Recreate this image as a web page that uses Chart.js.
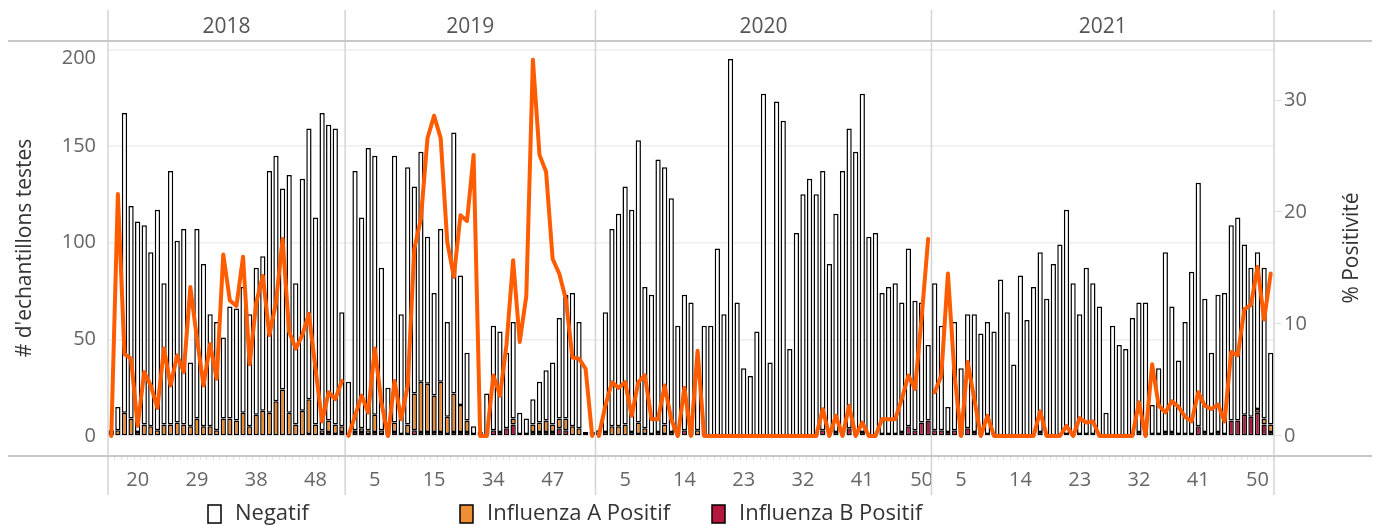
<!DOCTYPE html>
<html>
<head>
<meta charset="utf-8">
<script src="https://cdn.jsdelivr.net/npm/chart.js@4.4.1/dist/chart.umd.min.js"></script>
<style>
  html, body { margin: 0; padding: 0; background: #fff; }
  #wrap { width: 1380px; height: 525px; }
</style>
</head>
<body>
<div id="wrap"><canvas id="grippe" width="1380" height="525"></canvas></div>
<script>
// semaines affichees par annee
const annees = ["2018", "2019", "2020", "2021"];
const semaines2018 = [16,17,18,19,20,21,22,23,24,25,26,27,28,29,30,31,32,33,34,35,36,37,38,40,41,42,43,44,45,46,47,48,49,50,51,52];
const semaines2019 = [1,2,3,4,5,7,8,9,10,11,12,13,14,15,16,17,18,19,20,21,26,30,34,35,36,37,38,39,41,43,45,47,48,49,50,51,52,53];
const semaines2020 = [1,2,3,4,5,6,7,8,9,10,11,12,13,14,15,16,17,18,19,20,21,22,23,24,25,26,27,28,29,30,31,32,33,34,35,36,37,38,39,40,41,42,43,44,45,46,47,48,49,50,51];
const semaines2021 = [1,2,3,4,5,6,7,8,9,10,11,12,13,14,15,16,17,18,19,20,21,22,23,24,25,26,27,28,29,30,31,32,33,34,35,36,37,38,39,40,41,42,43,44,45,46,47,48,49,50,51,52];

// nombre d'echantillons
const negatif2018 = [3,12,155,110,109,103,90,114,73,131,94,101,33,98,84,58,56,42,58,58,65,58,76,80,125,127,104,123,73,120,140,107,164,153,153,59];
const grippeA2018 = [0,3,12,9,2,6,5,3,6,6,7,6,5,9,5,5,3,9,9,8,12,5,11,13,12,18,24,12,6,13,18,6,2,6,5,3];
const grippeB2018 = [0,0,0,0,0,0,0,0,0,0,0,0,0,0,0,0,0,0,0,0,0,0,0,0,0,0,0,0,0,0,1,0,1,2,1,2];

const negatif2019 = [28,134,109,146,134,84,25,138,62,133,107,119,76,53,79,49,135,67,35,4,2,22,54,52,39,50,11,8,13,21,26,32,52,64,69,55,1,2];
const grippeA2019 = [0,1,2,2,9,2,0,5,0,5,19,26,25,19,26,9,20,14,6,1,0,0,0,0,0,3,0,0,4,5,6,4,5,6,5,4,1,0];
const grippeB2019 = [0,2,2,1,2,1,0,2,1,1,3,2,2,2,2,1,2,2,2,0,0,0,3,2,4,6,1,1,2,2,2,2,4,3,0,0,0,0];

const negatif2020 = [3,62,102,110,123,115,146,73,72,141,133,121,57,70,69,38,57,57,97,63,195,69,35,31,54,177,38,173,163,45,105,125,133,125,134,89,113,137,155,147,175,103,105,73,76,78,67,92,67,62,39];
const grippeA2020 = [0,2,5,5,6,2,6,3,0,0,5,2,0,0,0,3,0,0,0,0,0,0,0,0,0,0,0,0,0,0,0,0,0,0,0,0,0,0,0,0,0,0,0,0,0,0,0,0,0,0,0];
const grippeB2020 = [0,0,0,0,0,0,1,1,1,2,1,0,0,3,0,0,0,0,0,0,0,0,0,0,0,0,0,0,0,0,0,0,0,0,3,0,2,0,4,0,2,0,0,1,1,1,2,5,3,7,8];

const negatif2021 = [76,54,13,56,35,59,61,53,58,54,81,64,37,83,60,77,93,71,89,99,116,79,62,86,78,67,12,57,47,45,61,67,69,15,34,93,65,38,58,84,126,69,42,71,73,101,105,88,77,81,78,37];
const grippeA2021 = [0,0,0,0,0,0,0,0,0,0,0,0,0,0,0,0,0,0,0,0,0,0,0,0,0,0,0,0,0,0,0,0,0,0,0,0,0,0,0,0,0,0,0,0,0,0,0,0,0,2,3,4];
const grippeB2021 = [3,3,2,3,0,4,2,0,1,0,0,0,0,0,0,0,2,0,0,0,1,0,1,1,1,0,0,0,0,0,0,2,0,1,1,2,2,1,1,1,5,2,1,2,1,8,8,11,10,12,6,2];

// % positivite
const positivite2018 = [0,21.6,7.3,6.9,0.9,5.7,4.5,2.5,7.8,4.5,7.2,5.7,13.3,8.7,4.5,8.2,5.1,16.2,12.1,11.6,16.0,6.4,11.9,14.3,9.0,11.9,17.6,9.3,7.8,9.0,10.9,6.0,1.3,3.9,3.3,4.9];
const positivite2019 = [0,1.8,3.6,2.1,7.8,3.0,0,4.9,1.5,4.5,16.7,19.4,26.6,28.6,26.6,17.3,14.2,19.7,19.2,25.1,0,0,5.4,3.6,8.2,15.7,8.4,12.5,33.6,25.1,23.6,15.8,14.5,12.2,7.0,6.9,6.0,0];
const positivite2020 = [0,2.7,4.8,4.3,4.8,1.8,4.8,5.4,1.5,1.5,4.5,1.5,0,4.3,0,7.6,0,0,0,0,0,0,0,0,0,0,0,0,0,0,0,0,0,0,2.4,0,1.8,0,2.7,0,1.2,0,0,1.5,1.5,1.5,3.3,5.4,4.2,10.5,17.6];
const positivite2021 = [3.9,5.4,14.5,5.5,0,6.6,3.3,0,1.8,0,0,0,0,0,0,0,2.2,0,0,0,0.9,0,1.6,1.2,1.3,0,0,0,0,0,0,3.0,0,6.4,2.7,2.1,3.1,2.6,1.7,1.3,3.9,2.7,2.4,2.8,1.3,7.5,7.2,11.3,11.7,15.1,10.4,14.5];

const ticksGauche = [0, 50, 100, 150, 200];
const ticksDroite = [0, 10, 20, 30];

const POLICE = '"Open Sans", "Noto Sans", sans-serif';
const coulNeg = "#ffffff";
const coulA = "#ef8f35";
const coulB = "#b5173e";
const coulLigne = "#ff5c00";

const semaines = [semaines2018, semaines2019, semaines2020, semaines2021];
const positivites = [positivite2018, positivite2019, positivite2020, positivite2021];

// une categorie par semaine, toutes annees a la suite
const labels = [];
const rangLocal = [];
const debuts = [];
semaines.forEach((sem) => {
    debuts.push(labels.length);
    sem.forEach((s, j) => {
        labels.push(String(s));
        rangLocal.push(j);
    });
});

const negatif = [].concat(negatif2018, negatif2019, negatif2020, negatif2021);
const grippeA = [].concat(grippeA2018, grippeA2019, grippeA2020, grippeA2021);
const grippeB = [].concat(grippeB2018, grippeB2019, grippeB2020, grippeB2021);

// une ligne par annee pour couper la courbe entre les volets
const lignes = positivites.map((p, k) => {
    const data = labels.map(() => null);
    p.forEach((v, j) => { data[debuts[k] + j] = v; });
    return {
        type: "line",
        label: "% Positivité " + annees[k],
        data: data,
        yAxisID: "y2",
        borderColor: coulLigne,
        borderWidth: 4,
        pointRadius: 0,
        tension: 0,
        spanGaps: false,
        borderJoinStyle: "round",
        borderCapStyle: "round",
        order: 0
    };
});

function bornes(chart) {
    const xs = chart.scales.x;
    const a = chart.chartArea;
    const out = [a.left];
    for (let k = 1; k < debuts.length; k++) {
        const i = debuts[k];
        out.push((xs.getPixelForValue(i - 1) + xs.getPixelForValue(i)) / 2);
    }
    out.push(a.right);
    return out;
}

const cadre = {
    id: "cadre",
    beforeDatasetsDraw(chart) {
        const ctx = chart.ctx;
        ctx.save();
        ctx.strokeStyle = "#d4d4d4";
        ctx.lineWidth = 1.5;
        bornes(chart).forEach(x => {
            ctx.beginPath();
            ctx.moveTo(x, 10);
            ctx.lineTo(x, 495);
            ctx.stroke();
        });
        ctx.restore();
    },
    afterDraw(chart) {
        const ctx = chart.ctx;
        const b = bornes(chart);
        const ys = chart.scales.y;
        ctx.save();
        // lignes d'en-tete et de pied
        ctx.strokeStyle = "#c8c8c8";
        ctx.lineWidth = 2;
        [41, 456].forEach(y => {
            ctx.beginPath();
            ctx.moveTo(8, y);
            ctx.lineTo(1372, y);
            ctx.stroke();
        });
        // le dernier tick de gauche, descendu sous la ligne d'en-tete
        const haut = ticksGauche[ticksGauche.length - 1];
        ctx.fillStyle = "#666";
        ctx.font = "20px " + POLICE;
        ctx.textAlign = "right";
        ctx.textBaseline = "middle";
        ctx.fillText(String(haut), ys.right - 12, Math.max(ys.getPixelForValue(haut), 58));
        // annees
        ctx.fillStyle = "#555";
        ctx.font = "21px " + POLICE;
        ctx.textAlign = "center";
        annees.forEach((an, k) => {
            ctx.fillText(an, (b[k] + b[k + 1]) / 2, 27);
        });
        // titres des axes
        ctx.fillStyle = "#333";
        ctx.font = "21px " + POLICE;
        ctx.save();
        ctx.translate(25, 248);
        ctx.rotate(-Math.PI / 2);
        ctx.fillText("# d'echantillons testes", 0, 0);
        ctx.restore();
        ctx.save();
        ctx.translate(1352, 248);
        ctx.rotate(-Math.PI / 2);
        ctx.fillText("% Positivité", 0, 0);
        ctx.restore();
        // legende
        const legende = [["Negatif", coulNeg], ["Influenza A Positif", coulA], ["Influenza B Positif", coulB]];
        ctx.textAlign = "left";
        ctx.font = "22px " + POLICE;
        legende.forEach(([txt, col], i) => {
            const x = 208 + i * 252;
            ctx.fillStyle = col;
            ctx.fillRect(x, 505, 13, 18);
            ctx.strokeStyle = "#000";
            ctx.lineWidth = 1.5;
            ctx.strokeRect(x, 505, 13, 18);
            ctx.fillStyle = "#333";
            ctx.fillText(txt, x + 27, 514);
        });
        ctx.restore();
    }
};

const barre = {
    type: "bar",
    borderColor: "#000000",
    borderWidth: 1.5,
    borderSkipped: false,
    barPercentage: 0.8,
    categoryPercentage: 1.0,
    yAxisID: "y",
    order: 1
};

new Chart(document.getElementById("grippe"), {
    data: {
        labels: labels,
        datasets: [
            Object.assign({}, barre, { label: "Influenza B Positif", data: grippeB, backgroundColor: coulB }),
            Object.assign({}, barre, { label: "Influenza A Positif", data: grippeA, backgroundColor: coulA }),
            Object.assign({}, barre, { label: "Negatif", data: negatif, backgroundColor: coulNeg }),
            ...lignes
        ]
    },
    options: {
        responsive: false,
        animation: false,
        layout: { padding: { left: 0, right: 0, top: 41, bottom: 29 } },
        plugins: {
            legend: { display: false },
            tooltip: { enabled: false }
        },
        scales: {
            x: {
                type: "category",
                stacked: true,
                offset: true,
                grid: { drawOnChartArea: false, drawTicks: true, tickLength: 4, color: "#e4e4e4" },
                border: { display: false },
                ticks: {
                    autoSkip: false,
                    maxRotation: 0,
                    minRotation: 0,
                    padding: 8,
                    color: "#666",
                    font: { family: POLICE, size: 20 },
                    callback: (v, i) => (rangLocal[i] % 9 === 4 ? labels[i] : "")
                },
                afterFit: s => { s.height = 40; }
            },
            y: {
                position: "left",
                stacked: true,
                min: -10.35,
                max: 204.3,
                afterBuildTicks: s => { s.ticks = ticksGauche.map(v => ({ value: v })); },
                grid: { color: "#eeeeee", lineWidth: 1.5, drawTicks: false },
                border: { display: false },
                ticks: {
                    padding: 12,
                    color: "#666",
                    font: { family: POLICE, size: 20 },
                    callback: v => (v === ticksGauche[ticksGauche.length - 1] ? "" : String(v))
                },
                afterFit: s => { s.width = 108; }
            },
            y2: {
                position: "right",
                min: -1.79,
                max: 35.27,
                afterBuildTicks: s => { s.ticks = ticksDroite.map(v => ({ value: v })); },
                grid: { drawOnChartArea: false, drawTicks: true, tickLength: 8, color: "#e2e2e2" },
                border: { display: false },
                ticks: { padding: 2, color: "#666", font: { family: POLICE, size: 20 } },
                afterFit: s => { s.width = 106; }
            }
        }
    },
    plugins: [cadre]
});
</script>
</body>
</html>
